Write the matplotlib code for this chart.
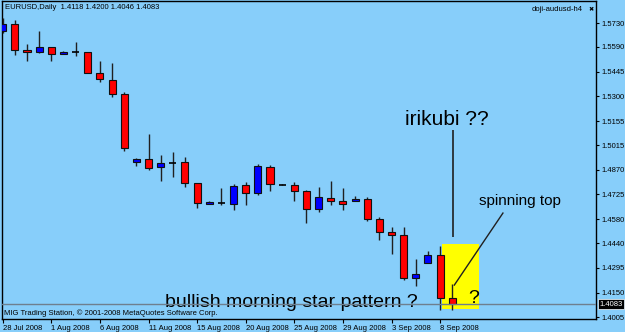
import matplotlib
matplotlib.use("Agg")
import matplotlib.pyplot as plt
from matplotlib.patches import Rectangle

# ---------------- data ----------------
dates = ["28 Jul", "29 Jul", "30 Jul", "31 Jul", "1 Aug", "3 Aug", "4 Aug", "5 Aug",
         "6 Aug", "7 Aug", "8 Aug", "10 Aug", "11 Aug", "12 Aug", "13 Aug", "14 Aug",
         "15 Aug", "17 Aug", "18 Aug", "19 Aug", "20 Aug", "21 Aug", "22 Aug", "24 Aug",
         "25 Aug", "26 Aug", "27 Aug", "28 Aug", "29 Aug", "31 Aug", "1 Sep", "2 Sep",
         "3 Sep", "4 Sep", "5 Sep", "7 Sep", "8 Sep", "9 Sep"]
opens = [1.5683, 1.5724, 1.5574, 1.5563, 1.5588, 1.5548, 1.5563, 1.5560, 1.5439, 1.5398,
         1.5314, 1.4917, 1.4933, 1.4884, 1.4911, 1.4917, 1.4794, 1.4669, 1.4673, 1.4669,
         1.4779, 1.4732, 1.4886, 1.4781, 1.4781, 1.4745, 1.4638, 1.4704, 1.4687, 1.4685,
         1.4697, 1.4580, 1.4507, 1.4486, 1.4237, 1.4325, 1.4370, 1.4118]
highs = [1.5760, 1.5748, 1.5607, 1.5685, 1.5588, 1.5566, 1.5617, 1.5560, 1.5507, 1.5494,
         1.5324, 1.4941, 1.5080, 1.4956, 1.4976, 1.4946, 1.4794, 1.4685, 1.4761, 1.4786,
         1.4796, 1.4902, 1.4898, 1.4785, 1.4800, 1.4751, 1.4767, 1.4804, 1.4761, 1.4716,
         1.4712, 1.4595, 1.4533, 1.4536, 1.4345, 1.4394, 1.4425, 1.4200]
lows = [1.5672, 1.5543, 1.5510, 1.5556, 1.5507, 1.5548, 1.5539, 1.5435, 1.5383, 1.5298,
        1.4982, 1.4894, 1.4869, 1.4806, 1.4829, 1.4767, 1.4648, 1.4669, 1.4663, 1.4634,
        1.4663, 1.4720, 1.4747, 1.4778, 1.4687, 1.4560, 1.4624, 1.4663, 1.4634, 1.4684,
        1.4571, 1.4458, 1.4376, 1.4224, 1.4189, 1.4325, 1.4048, 1.4046]
closes = [1.5724, 1.5572, 1.5563, 1.5587, 1.5550, 1.5562, 1.5563, 1.5439, 1.5402, 1.5312,
          1.4996, 1.4933, 1.4882, 1.4908, 1.4911, 1.4794, 1.4677, 1.4679, 1.4673, 1.4775,
          1.4732, 1.4892, 1.4785, 1.4781, 1.4745, 1.4638, 1.4708, 1.4687, 1.4667, 1.4697,
          1.4580, 1.4507, 1.4488, 1.4237, 1.4257, 1.4369, 1.4116, 1.4083]

price_ticks = [1.5730, 1.5590, 1.5445, 1.5300, 1.5155, 1.5015, 1.4870, 1.4725,
               1.4580, 1.4440, 1.4295, 1.4150, 1.4005]
price_labels = ["1.5730", "1.5590", "1.5445", "1.5300", "1.5155", "1.5015", "1.4870",
                "1.4725", "1.4580", "1.4440", "1.4295", "1.4150", "1.4005"]
date_tick_idx = [0, 4, 8, 12, 16, 20, 24, 28, 32, 36]
date_tick_labels = ["28 Jul 2008", "1 Aug 2008", "6 Aug 2008", "11 Aug 2008", "15 Aug 2008",
                    "20 Aug 2008", "25 Aug 2008", "29 Aug 2008", "3 Sep 2008", "8 Sep 2008"]
last_price = 1.4083

# ---------------- figure ----------------
BG = "#87CEFA"
W, H = 625, 332
fig = plt.figure(figsize=(W / 100, H / 100), dpi=100, facecolor=BG)
left_px, right_px, top_px, bot_px = 2, 596, 1, 319
ax = fig.add_axes([left_px / W, (H - bot_px) / H, (right_px - left_px) / W, (bot_px - top_px) / H])
ax.set_facecolor(BG)
ax.set_xlim(-0.058, 48.83)
ax.set_ylim(1.4083 - 15 / 1706, 1.4083 + 303 / 1706)

small = dict(family="Liberation Sans", fontsize=5.5, color="black")
big = "Liberation Sans"

# yellow highlight box
ax.add_patch(Rectangle((36.18, 1.4054), 39.2 - 36.18, 1.4435 - 1.4054,
                       facecolor="#FFFF00", edgecolor="none", zorder=1))

# candles
bw = 0.58
for i in range(len(opens)):
    o, h, l, c = opens[i], highs[i], lows[i], closes[i]
    ax.vlines(i, l, h, color="#202020", lw=1.0, zorder=3)
    if abs(c - o) < 1e-6:
        ax.hlines(o, i - bw / 2, i + bw / 2, color="black", lw=1.2, zorder=4)
    else:
        col = "#0000FF" if c > o else "#FF0000"
        ax.bar(i, abs(c - o), bottom=min(o, c), width=bw, color=col,
               edgecolor="#101010", linewidth=0.8, zorder=4)

# current price line
ax.axhline(last_price, color="#6E7F8E", lw=1.0, zorder=5)

# annotations
ax.text(33.11, 1.5132, "irikubi ??", family=big, fontsize=15, ha="left", va="baseline", zorder=6)
ax.vlines(37.1, 1.4476, 1.5103, color="#202020", lw=1.2, zorder=6)
ax.text(39.2, 1.4663, "spinning top", family=big, fontsize=11, ha="left", va="baseline", zorder=6)
ax.plot([41.17, 37.17], [1.4616, 1.4194], color="#202020", lw=1.0, zorder=6)
ax.text(38.3, 1.4089, "?", family=big, fontsize=14, ha="left", va="baseline", zorder=6)
ax.text(13.36, 1.4065, "bullish morning star pattern ?", family=big, fontsize=14,
        ha="left", va="baseline", zorder=4.5)

# header texts
ax.text(3 / 594, 0.978, "EURUSD,Daily  1.4118 1.4200 1.4046 1.4083", transform=ax.transAxes,
        ha="left", va="center", **small)
ax.text(0.978, 0.972, "doji-audusd-h4", transform=ax.transAxes, ha="right", va="center", **small)
ax.text(0.991, 0.972, "\u2716", transform=ax.transAxes, ha="center", va="center",
        family="DejaVu Sans", fontsize=4.5, color="black")
ax.text(2 / 594, 0.019, "MIG Trading Station, \u00a9 2001-2008 MetaQuotes Software Corp.",
        transform=ax.transAxes, ha="left", va="center", **small)

# axes styling
for s in ax.spines.values():
    s.set_color("black")
    s.set_linewidth(1.0)
ax.yaxis.tick_right()
ax.set_yticks(price_ticks)
ax.set_yticklabels(price_labels)
ax.tick_params(axis="y", direction="out", length=2.5, width=0.8, pad=1.5, colors="black",
               labelsize=5.5)
ax.set_xticks(date_tick_idx)
ax.set_xticklabels(date_tick_labels)
ax.tick_params(axis="x", direction="out", length=3, width=0.8, pad=1, colors="black",
               labelsize=5.5)
for lab in ax.get_xticklabels() + ax.get_yticklabels():
    lab.set_family("Liberation Sans")
for lab in ax.get_xticklabels():
    lab.set_horizontalalignment("left")

# current price box on the axis
ax.annotate("1.4083", xy=(1.0, last_price), xycoords=("axes fraction", "data"),
            xytext=(2.5, 0), textcoords="offset points", ha="left", va="center",
            family="Liberation Sans", fontsize=5.5, color="white",
            bbox=dict(boxstyle="square,pad=0.15", facecolor="black", edgecolor="white", lw=0.5),
            annotation_clip=False, zorder=10)

fig.savefig("out.png", dpi=100, facecolor=BG)
